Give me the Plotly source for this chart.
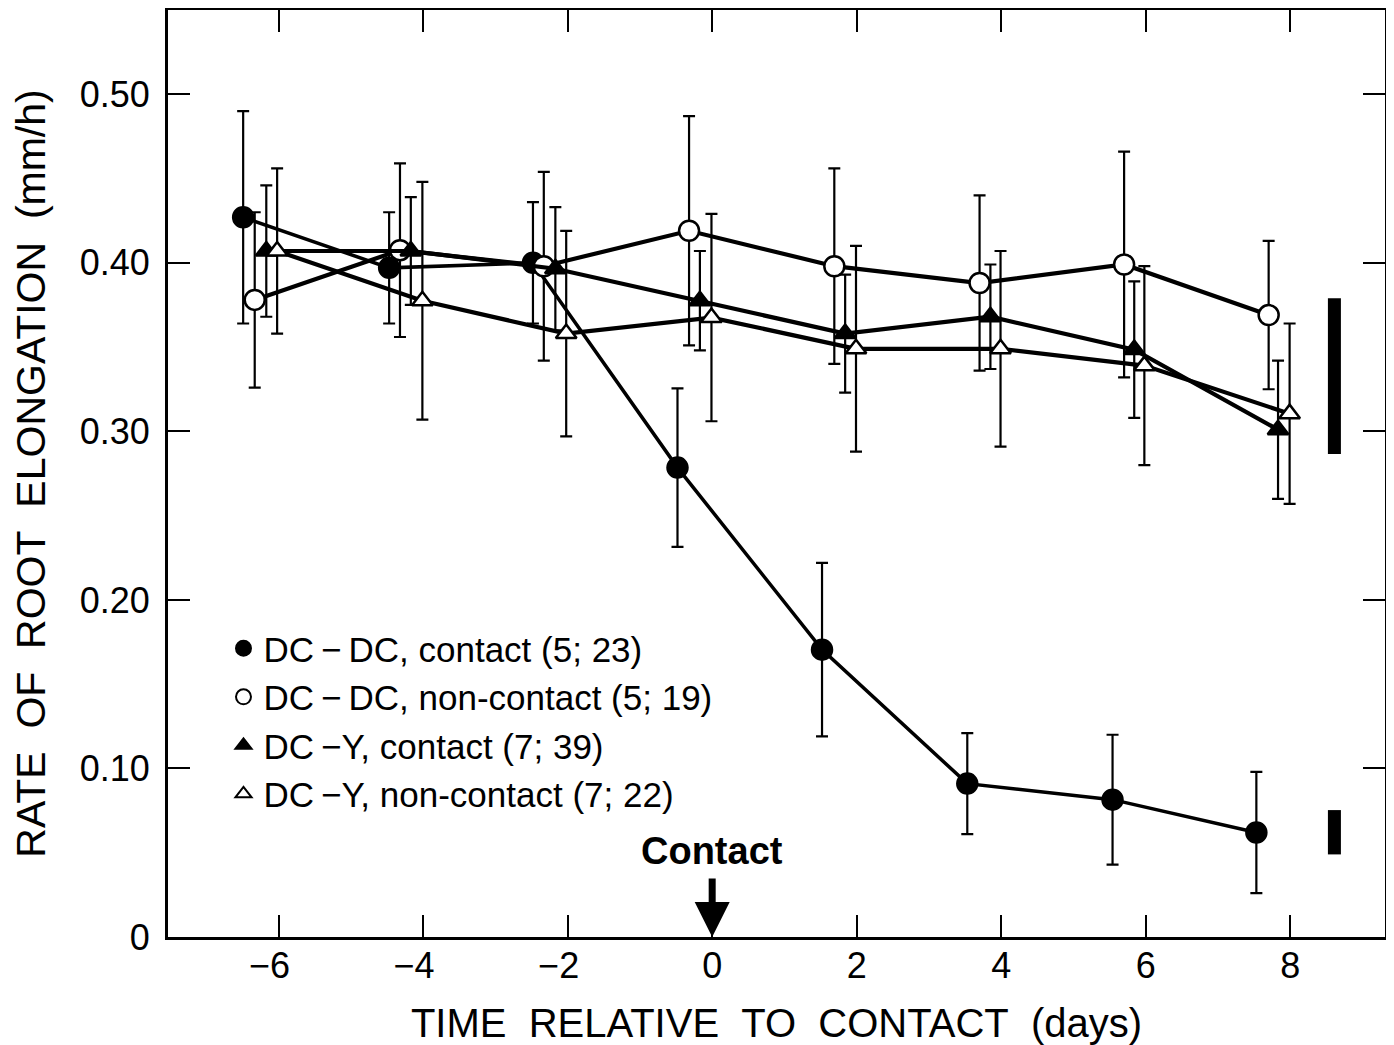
import plotly.graph_objects as go

# ---- data ----
days_dcdc_contact = [-6.49, -4.47, -2.48, -0.48, 1.52, 3.53, 5.54, 7.53]
rate_dcdc_contact = [0.427, 0.397, 0.400, 0.2785, 0.1705, 0.091, 0.0815, 0.062]
err_dcdc_contact = [0.063, 0.033, 0.036, 0.047, 0.0515, 0.030, 0.0385, 0.036]

days_dcdc_noncontact = [-6.33, -4.32, -2.33, -0.32, 1.69, 3.70, 5.70, 7.70]
rate_dcdc_noncontact = [0.378, 0.4075, 0.398, 0.419, 0.398, 0.388, 0.399, 0.369]
err_dcdc_noncontact = [0.052, 0.0515, 0.056, 0.068, 0.058, 0.052, 0.067, 0.044]

days_dcy_contact = [-6.17, -4.17, -2.17, -0.17, 1.84, 3.85, 5.84, 7.83]
rate_dcy_contact = [0.407, 0.407, 0.3965, 0.3775, 0.358, 0.368, 0.3485, 0.301]
err_dcy_contact = [0.039, 0.032, 0.0365, 0.0295, 0.035, 0.031, 0.0405, 0.041]

days_dcy_noncontact = [-6.02, -4.01, -2.02, -0.01, 1.99, 3.99, 5.98, 7.99]
rate_dcy_noncontact = [0.407, 0.3775, 0.358, 0.3675, 0.349, 0.349, 0.339, 0.3105]
err_dcy_noncontact = [0.049, 0.0705, 0.061, 0.0615, 0.061, 0.058, 0.059, 0.0535]

# LSD-type bars at the right
lsd_x = [8.61, 8.61]
lsd_low = [0.2865, 0.049]
lsd_high = [0.379, 0.0753]

legend_labels = [
    "DC\u2009\u2212\u2009DC, contact (5; 23)",
    "DC\u2009\u2212\u2009DC, non-contact (5; 19)",
    "DC\u2009\u2212Y, contact (7; 39)",
    "DC\u2009\u2212Y, non-contact (7; 22)",
]

x_tickvals = [-6, -4, -2, 0, 2, 4, 6, 8]
x_ticktext = ["\u22126\u2002", "\u22124\u2002", "\u22122\u2002", "0", "2", "4", "6", "8"]
y_tickvals = [0, 0.1, 0.2, 0.3, 0.4, 0.5]
y_ticktext = ["0", "0.10", "0.20", "0.30", "0.40", "0.50"]

FONT = "Liberation Sans, Arial, Helvetica, sans-serif"
SP = "\u00a0\u00a0"

fig = go.Figure()

series = [
    (days_dcdc_contact, rate_dcdc_contact, err_dcdc_contact, "circle", "black", 3.5),
    (days_dcdc_noncontact, rate_dcdc_noncontact, err_dcdc_noncontact, "circle", "white", 4.2),
    (days_dcy_contact, rate_dcy_contact, err_dcy_contact, "triangle-up", "black", 4.2),
    (days_dcy_noncontact, rate_dcy_noncontact, err_dcy_noncontact, "triangle-up", "white", 4.2),
]

for xs, ys, es, sym, fill, lw in series:
    fig.add_trace(go.Scatter(
        x=xs, y=ys, mode="lines+markers",
        line=dict(color="black", width=lw),
        marker=dict(symbol=sym, size=20 if sym == "circle" else 18, color=fill,
                    line=dict(color="black", width=2.5)),
        error_y=dict(type="data", array=es, visible=True, thickness=2.2,
                     width=6, color="black"),
        showlegend=False, hoverinfo="skip",
    ))

# LSD bars
for i in range(len(lsd_x)):
    fig.add_trace(go.Scatter(
        x=[lsd_x[i], lsd_x[i]], y=[lsd_low[i], lsd_high[i]], mode="lines",
        line=dict(color="black", width=13), showlegend=False, hoverinfo="skip",
    ))

# legend-only entries (markers only)
for (xs, ys, es, sym, fill, lw), lab in zip(series, legend_labels):
    fig.add_trace(go.Scatter(
        x=[None], y=[None], mode="markers", name=lab,
        marker=dict(symbol=sym, size=15 if sym == "circle" else 14, color=fill,
                    line=dict(color="black", width=2)),
    ))

fig.add_annotation(x=0, y=0, xref="x", yref="y", text="", showarrow=True,
                   ax=0, ay=-60, arrowhead=2, arrowsize=1.0, arrowwidth=7,
                   arrowcolor="black", standoff=0)
fig.add_annotation(x=0, y=0.051, xref="x", yref="y", text="<b>Contact</b>",
                   showarrow=False, font=dict(family=FONT, size=38, color="black"),
                   xanchor="center", yanchor="middle")

axis_common = dict(
    showline=True, linewidth=3, linecolor="black", mirror="ticks",
    ticks="inside", ticklen=22, tickwidth=2.2, tickcolor="black",
    showgrid=False, zeroline=False, automargin=False,
    tickfont=dict(family=FONT, size=36, color="black"),
)

# the page body adds an 8px offset; the figure is sized so the plot frame
# lands where the reference frame is
fig.update_layout(
    width=1386, height=1037,
    margin=dict(l=160, r=9, t=2, b=108),
    paper_bgcolor="white", plot_bgcolor="white",
    font=dict(family=FONT, color="black"),
    xaxis=dict(range=[-7.53, 9.31], tickvals=x_tickvals, ticktext=x_ticktext,
               title=dict(text=SP.join(["TIME", "RELATIVE", "TO", "CONTACT", "(days)"]),
                          font=dict(family=FONT, size=40, color="black"), standoff=24),
               ticklabelstandoff=-5, **axis_common),
    yaxis=dict(range=[0, 0.55], tickvals=y_tickvals, ticktext=y_ticktext,
               title=dict(text=SP.join(["RATE", "OF", "ROOT", "ELONGATION", "(mm/h)"]),
                          font=dict(family=FONT, size=41, color="black"), standoff=34),
               ticklabelstandoff=8, **axis_common),
    legend=dict(x=0.0456, y=0.343, xanchor="left", yanchor="top",
                font=dict(family=FONT, size=35, color="black"),
                bgcolor="rgba(0,0,0,0)", borderwidth=0, tracegroupgap=0,
                itemsizing="trace"),
)

fig.write_html("out.html")
